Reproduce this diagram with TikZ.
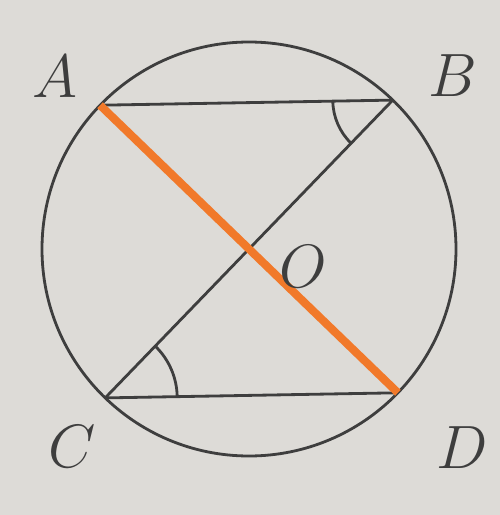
\documentclass[tikz,border=0pt]{standalone}
\usepackage{amsmath}
\usepackage{amssymb}
\definecolor{paper}{RGB}{221,219,215}
\definecolor{ink}{RGB}{62,62,62}
\definecolor{segorange}{RGB}{241,121,42}

\begin{document}
\begin{tikzpicture}[line width=1.6pt,ink,
			lbl/.style={font=\Huge,scale=1.4,text=ink}]
			\fill[paper] (-4.98,-5.32) rectangle (5.02,4.98);
			\useasboundingbox (-4.98,-5.32) rectangle (5.02,4.98);
			\coordinate (O) at (0,0);
			\coordinate (A) at (136:4.14);
			\coordinate (B) at (46:4.14);
			\coordinate (C) at (226:4.14);
			\coordinate (D) at (316:4.14);
			\draw (O) circle (4.14cm);
			\draw (A) -- (B);
			\draw (C) -- (D);
			\draw (B) -- (C);
			\draw ([shift={(181:1.2)}]B) arc (181:226:1.2);
			\draw ([shift={(1:1.44)}]C) arc (1:46:1.44);
			\draw[segorange,line width=4.6pt] (A) -- (D);
			\node[lbl] (lA) at (138.4:5.18) {$A$};
			\node[lbl] (lB) at (40.3:5.35) {$B$};
			\node[lbl] (lC) at (228.2:5.31) {$C$};
			\node[lbl] (lD) at (317.1:5.82) {$D$};
			\node[lbl] (lO) at (1.08,-0.36) {$O$};
		\end{tikzpicture}
\end{document}
